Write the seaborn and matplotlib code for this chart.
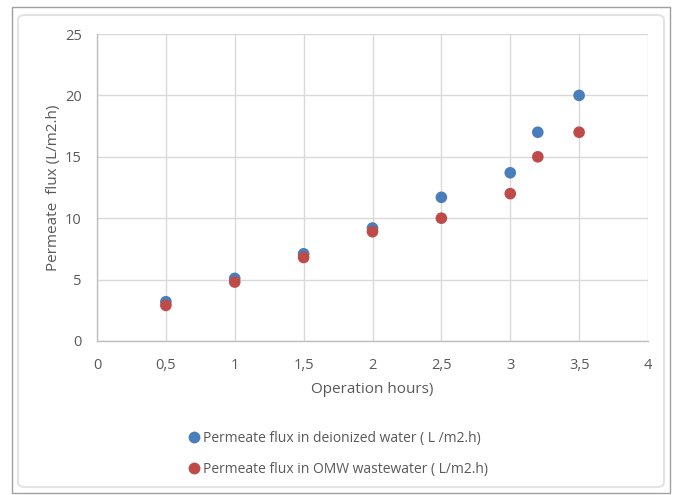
import matplotlib
matplotlib.use("Agg")
import matplotlib.pyplot as plt
import seaborn as sns
import pandas as pd
from matplotlib.patches import FancyBboxPatch, Rectangle
from matplotlib.ticker import FuncFormatter, MultipleLocator
from matplotlib.lines import Line2D

hours = [0.5, 1, 1.5, 2, 2.5, 3, 3.2, 3.5]
flux_deionized = [3.2, 5.1, 7.1, 9.2, 11.7, 13.7, 17.0, 20.0]
flux_omw = [2.9, 4.8, 6.8, 8.9, 10.0, 12.0, 15.0, 17.0]
label_deionized = "Permeate flux in deionized water ( L /m2.h)"
label_omw = "Permeate flux in OMW wastewater ( L/m2.h)"

df = pd.concat([
    pd.DataFrame({"hours": hours, "flux": flux_deionized, "series": label_deionized}),
    pd.DataFrame({"hours": hours, "flux": flux_omw, "series": label_omw}),
])

sns.set_style("white")
plt.rcParams["font.family"] = ["Open Sans", "DejaVu Sans"]
text_col = "#595959"
blue = "#4a7ebb"
red = "#be4b48"

fig = plt.figure(figsize=(6.77, 4.95), dpi=100)
fig.patches.append(Rectangle((12/677, 1-493/495), 658/677, 486/495, transform=fig.transFigure,
                             fill=False, edgecolor="#a0a0a0", linewidth=1.0))
fig.patches.append(FancyBboxPatch((18/677, 1-487/495), 646/677, 472/495, transform=fig.transFigure,
                                  boxstyle="round,pad=0,rounding_size=0.01",
                                  fill=False, edgecolor="#e3e3e3", linewidth=1.5))

ax = fig.add_axes([97/677, 1-341/495, 551/677, 307/495])
sns.scatterplot(data=df, x="hours", y="flux", hue="series",
                palette={label_deionized: blue, label_omw: red},
                s=70, edgecolor="none", ax=ax, legend=False, zorder=3)

ax.set_xlim(0, 4)
ax.set_ylim(0, 25)
ax.xaxis.set_major_locator(MultipleLocator(0.5))
ax.yaxis.set_major_locator(MultipleLocator(5))
fmt = FuncFormatter(lambda v, p: (f"{v:g}").replace(".", ","))
ax.xaxis.set_major_formatter(fmt)
ax.grid(True, color="#d9d9d9", linewidth=1.0)
ax.set_axisbelow(True)
for s in ["top", "right"]:
    ax.spines[s].set_visible(False)
for s in ["left", "bottom"]:
    ax.spines[s].set_color("#bfbfbf")
    ax.spines[s].set_linewidth(1.0)
ax.tick_params(axis="both", colors=text_col, labelsize=10.5, length=0)
ax.tick_params(axis="x", pad=12)
ax.tick_params(axis="y", pad=11)
ax.set_xlabel("Operation hours)", color=text_col, fontsize=11, labelpad=7)
ax.set_ylabel("Permeate  flux (L/m2.h)", color=text_col, fontsize=11, labelpad=3)

handles = [Line2D([], [], marker="o", linestyle="none", markersize=7.5, color=blue, label=label_deionized),
           Line2D([], [], marker="o", linestyle="none", markersize=7.5, color=red, label=label_omw)]
leg = fig.legend(handles=handles, loc="upper left", bbox_to_anchor=(180/677, 1-425/495),
                 frameon=False, fontsize=10, handletextpad=0.05, labelspacing=1.15,
                 handlelength=1.2, borderaxespad=0)
for t in leg.get_texts():
    t.set_color(text_col)

fig.savefig("out.png", dpi=100)
